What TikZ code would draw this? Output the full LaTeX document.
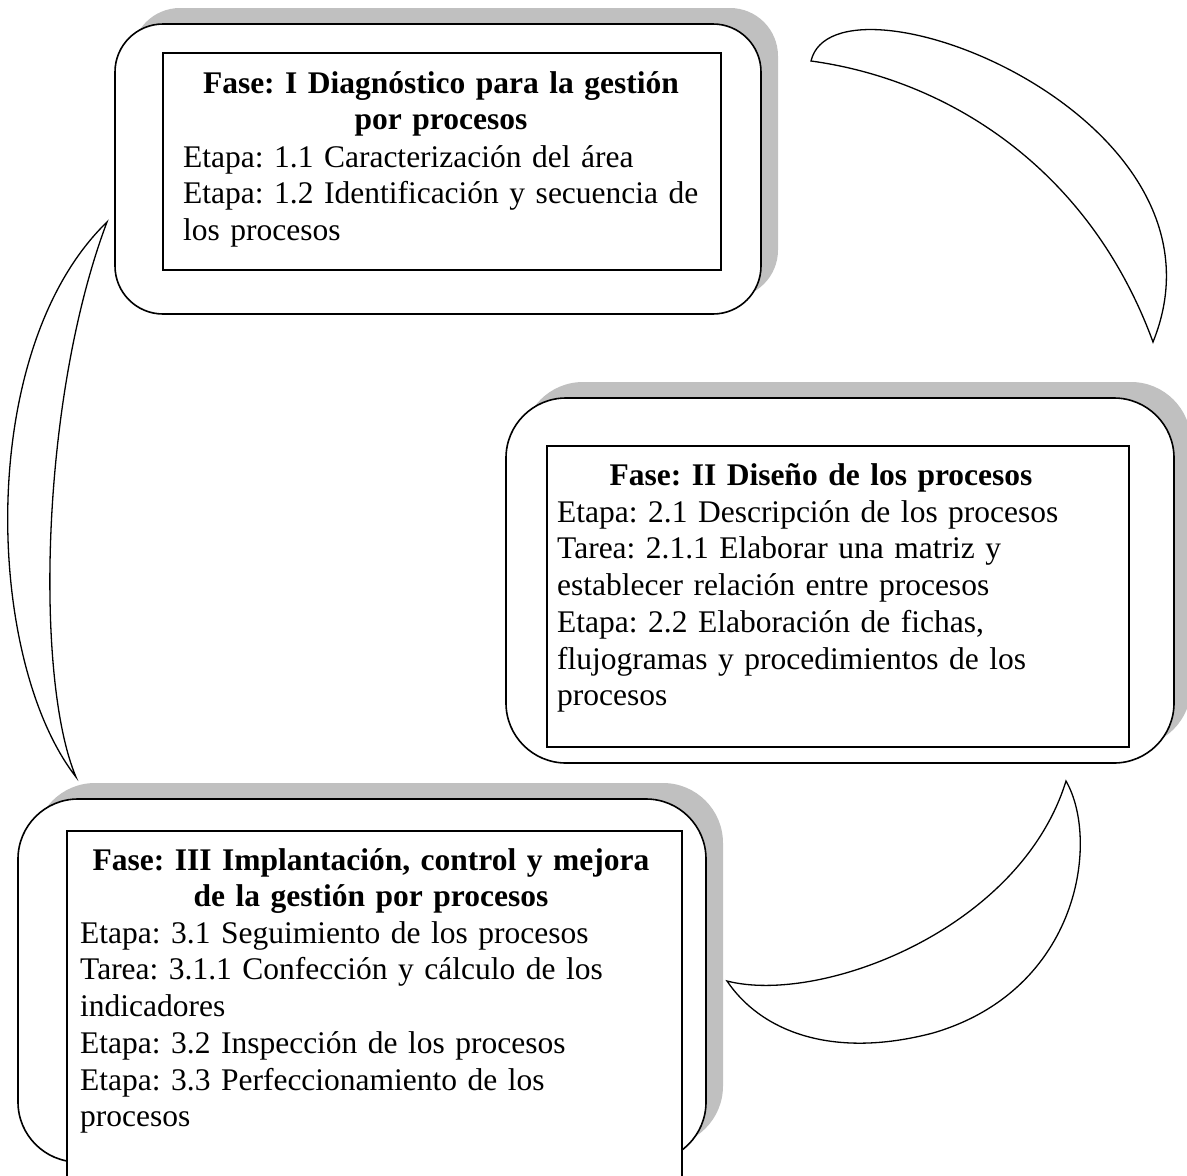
\documentclass[tikz,border=0pt]{standalone}
\usepackage{fontspec}
\setmainfont{Liberation Serif}
\usetikzlibrary{shadows}
\definecolor{shadowgray}{RGB}{192,192,192}

\begin{document}
\frenchspacing
\begin{tikzpicture}[x=1pt,y=-1pt,
  panel/.style={draw=black, line width=1.6pt, fill=white, inner sep=0pt,
    drop shadow={shadow xshift=17pt, shadow yshift=16pt, fill=shadowgray, opacity=1}},
  framebox/.style={draw=black, line width=1.6pt, fill=white, inner sep=0pt},
  crescent/.style={draw=black, line width=1.3pt, fill=white, line join=miter},
  bodytext/.style={font=\fontsize{31.5}{36.75}\selectfont, inner sep=0pt, align=left, text width=#1},
  titletext/.style={font=\fontsize{31.5}{36.75}\selectfont\bfseries, inner sep=0pt, align=center, text width=#1}
]
\useasboundingbox (0,0) rectangle (1187,1176);
\clip (0,0) rectangle (1187,1176);

% rounded panels with their grey drop shadows
\node[panel, rounded corners=48pt, minimum width=646pt, minimum height=290pt] (b1) at (438,169) {};
\node[panel, rounded corners=60pt, minimum width=668pt, minimum height=365pt] (b2) at (840,580.5) {};
\node[panel, rounded corners=60pt, minimum width=688pt, minimum height=363pt] (b3) at (362,980.5) {};

% crescent arrows between the phases
\coordinate (c1a) at (811,61);
\coordinate (c1b) at (1153,342);
\draw[crescent] (c1a) .. controls (835,-40) and (1245,115) .. (c1b)
  .. controls (1090,170) and (950,80) .. (c1a) -- cycle;

\coordinate (c2a) at (1066,781);
\coordinate (c2m) at (933,1033);
\coordinate (c2b) at (727,981);
\draw[crescent] (c2a) .. controls (1100,840) and (1080,990) .. (c2m)
  .. controls (830,1060) and (760,1030) .. (c2b)
  .. controls (820,1005) and (1020,930) .. (c2a) -- cycle;

\coordinate (c3a) at (107,222);
\coordinate (c3b) at (76,777);
\draw[crescent] (c3a) .. controls (-25,350) and (-15,660) .. (c3b)
  .. controls (35,680) and (40,400) .. (c3a) -- cycle;

% framed text areas
\node[framebox, minimum width=558pt, minimum height=217pt] (r1) at (442,161.5) {};
\node[framebox, minimum width=582pt, minimum height=301pt] (r2) at (838,596.5) {};
\node[framebox, minimum width=615pt, minimum height=364pt] (r3) at (374.5,1013) {};

% phase I
\node[titletext=540pt, anchor=base] (t1) at (441,93)
  {Fase: I Diagnóstico para la gestión\\ por procesos};
\node[bodytext=560pt, anchor=base west] (d1) at (183,167)
  {Etapa: 1.1 Caracterización del área\\
   Etapa: 1.2 Identificación y secuencia de\\
   los procesos};

% phase II
\node[titletext=540pt, anchor=base] (t2) at (821,485)
  {Fase: II Diseño de los procesos};
\node[bodytext=560pt, anchor=base west] (d2) at (557,522)
  {Etapa: 2.1 Descripción de los procesos\\
   Tarea: 2.1.1 Elaborar una matriz y\\
   establecer relación entre procesos\\
   Etapa: 2.2 Elaboración de fichas,\\
   flujogramas y procedimientos de los\\
   procesos};

% phase III
\node[titletext=600pt, anchor=base] (t3) at (371,870)
  {Fase: III Implantación, control y mejora\\ de la gestión por procesos};
\node[bodytext=590pt, anchor=base west] (d3) at (80,943)
  {Etapa: 3.1 Seguimiento de los procesos\\
   Tarea: 3.1.1 Confección y cálculo de los\\
   indicadores\\
   Etapa: 3.2 Inspección de los procesos\\
   Etapa: 3.3 Perfeccionamiento de los\\
   procesos};
\end{tikzpicture}
\end{document}
